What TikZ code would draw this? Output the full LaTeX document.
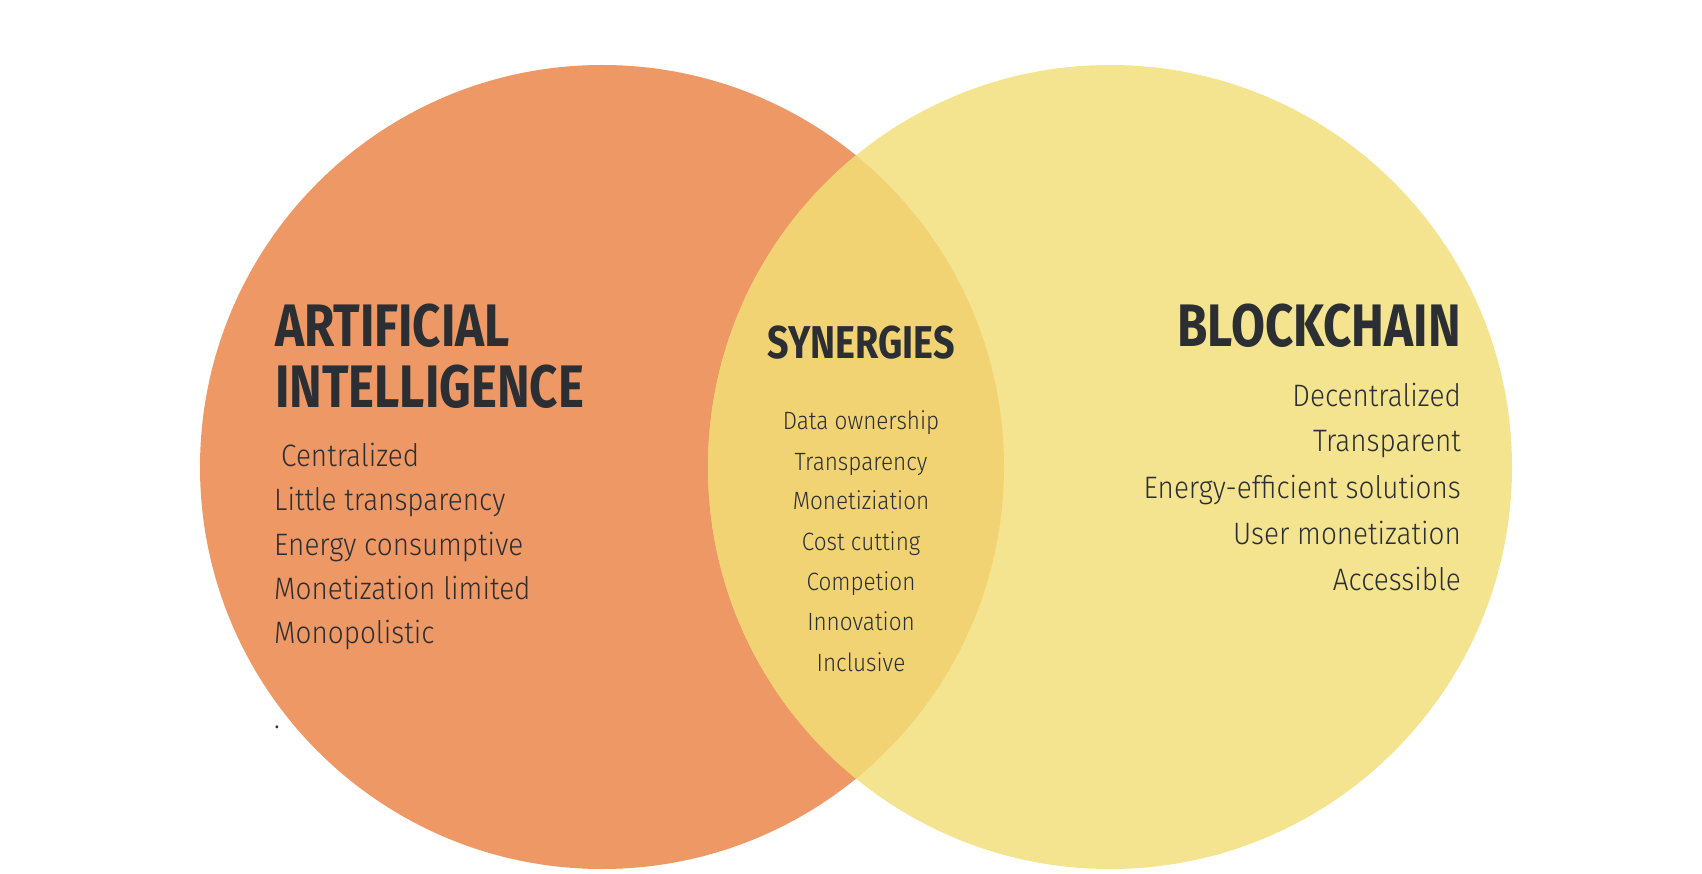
\documentclass[tikz,border=0pt]{standalone}
\usepackage{fontspec}
\setmainfont{Fira Sans}
\newfontfamily\headfont[FakeStretch=0.82]{Fira Sans Bold}
\newfontfamily\bodyfont[FakeStretch=0.9]{Fira Sans Light}
\definecolor{aiorange}{HTML}{EE9965}
\definecolor{bcyellow}{HTML}{F5E48F}
\definecolor{overlapc}{HTML}{F2D373}
\definecolor{ink}{HTML}{2B2E33}
\begin{document}
\begin{tikzpicture}[x=1pt,y=-1pt,
  head/.style={font=\headfont\fontsize{60}{60}\selectfont,text=ink,inner sep=0pt},
  item/.style={font=\bodyfont\fontsize{31}{31}\selectfont,text=ink,inner sep=0pt},
  sitem/.style={font=\bodyfont\fontsize{25}{25}\selectfont,text=ink,inner sep=0pt,anchor=base}]
\useasboundingbox (0,0) rectangle (1702,874);
\fill[white] (0,0) rectangle (1702,874);
\fill[aiorange] (602,467) circle (402);
\fill[bcyellow] (1110,467) circle (402);
\begin{scope}
\clip (602,467) circle (402);
\fill[overlapc] (1110,467) circle (402);
\end{scope}
% left
\node[head,anchor=base west] (ai1) at (275,347) {ARTIFICIAL};
\node[head,anchor=base west] (ai2) at (275,407) {INTELLIGENCE};
\node[item,anchor=base west] (a1) at (281,466) {Centralized};
\node[item,anchor=base west] (a2) at (274,510) {Little transparency};
\node[item,anchor=base west] (a3) at (274,555) {Energy consumptive};
\node[item,anchor=base west] (a4) at (274,599) {Monetization limited};
\node[item,anchor=base west] (a5) at (274,643) {Monopolistic};
\node[item,anchor=base west] (dot) at (274,728) {.};
% middle
\node[head,anchor=base,font=\headfont\fontsize{46}{46}\selectfont] (sy) at (861,359) {SYNERGIES};
\node[sitem] (s1) at (861,429) {Data ownership};
\node[sitem] (s2) at (861,470) {Transparency};
\node[sitem] (s3) at (861,509) {Monetiziation};
\node[sitem] (s4) at (861,550) {Cost cutting};
\node[sitem] (s5) at (861,590) {Competion};
\node[sitem] (s6) at (861,630) {Innovation};
\node[sitem] (s7) at (861,671) {Inclusive};
% right
\node[head,anchor=base east] (bc) at (1461,347) {BLOCKCHAIN};
\node[item,anchor=base east] (b1) at (1461,406) {Decentralized};
\node[item,anchor=base east] (b2) at (1461,451) {Transparent};
\node[item,anchor=base east] (b3) at (1461,498) {Energy-efficient solutions};
\node[item,anchor=base east] (b4) at (1461,544) {User monetization};
\node[item,anchor=base east] (b5) at (1461,590) {Accessible};
\end{tikzpicture}
\end{document}
